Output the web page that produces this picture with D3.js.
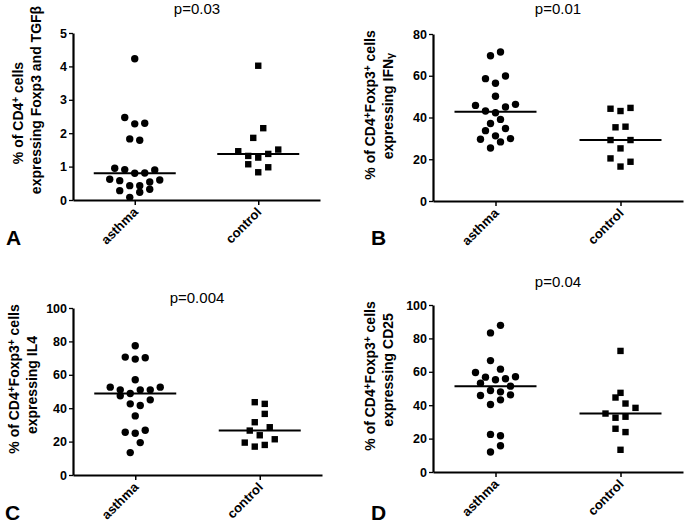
<!DOCTYPE html>
<html>
<head>
<meta charset="utf-8">
<script src="https://cdn.jsdelivr.net/npm/d3@7"></script>
<style>
  html, body { margin: 0; padding: 0; background: #fff; }
  svg { display: block; }
  text { font-family: "Liberation Sans", Arial, Helvetica, sans-serif; fill: #000; }
</style>
</head>
<body>
<svg id="chart" width="685" height="526"></svg>
<script>
// ---------------- data ----------------
const categories = ["asthma", "control"];
const pLabels = ["p=0.03", "p=0.01", "p=0.004", "p=0.04"];
const panelLetters = ["A", "B", "C", "D"];

const yTicksA = [0, 1, 2, 3, 4, 5];
const yTicksB = [0, 20, 40, 60, 80];
const yTicksC = [0, 20, 40, 60, 80, 100];
const yTicksD = [0, 20, 40, 60, 80, 100];

// Panel A: % of CD4+ cells expressing Foxp3 and TGFβ
const asthmaA = [4.23, 2.47, 2.28, 2.30, 1.83, 1.79, 0.95, 0.91, 0.90, 0.80, 0.81, 0.62, 0.58, 0.60, 0.54, 0.43, 0.43, 0.28, 0.32, 0.23, 0.08];
const asthmaASlot = [0, -2, 0, 2, -1, 1, -4, -2, 4, 0, 2, -5, -3, 5, 3, -1, 1, -3, 3, 1, -1];
const controlA = [4.02, 2.15, 1.86, 1.46, 1.51, 1.32, 1.38, 1.27, 1.07, 0.98, 0.83];
const controlASlot = [0, 1, -1, -4, 4, -2, 2, 0, -2, 2, 0];

// Panel B: IFNγ
const asthmaB = [71.4, 69.6, 58.6, 59.9, 56.4, 50.2, 45.8, 46.3, 45.0, 43.1, 42.3, 39.1, 37.1, 33.7, 34.7, 31.2, 29.6, 29.9, 28.3, 25.4];
const asthmaBSlot = [1, -1, -2, 2, 0, 0, -4, 4, 2, -2, 0, 1, -1, -2, 2, 0, -3, 3, 1, -1];
const controlB = [44.2, 43.1, 44.6, 35.3, 35.6, 29.2, 29.2, 25.2, 20.4, 18.8, 16.5];
const controlBSlot = [-2, 0, 2, -1, 1, -2, 2, 0, -2, 2, 0];

// Panel C: IL4
const asthmaC = [77.4, 70.6, 69.4, 70.2, 57.0, 52.6, 52.6, 51.0, 51.0, 51.0, 47.4, 48.8, 45.0, 42.6, 41.6, 35.4, 25.6, 25.0, 26.8, 19.4, 13.4];
const asthmaCSlot = [0, -2, 0, 2, 0, -5, 5, -3, 1, 3, -3, -1, 3, -1, 1, 0, -2, 0, 2, 1, -1];
const controlC = [43.6, 42.6, 36.6, 31.6, 28.6, 26.6, 23.8, 21.4, 19.4, 17.0, 18.0];
const controlCSlot = [-1, 1, 1, -1, 2, -2, 0, 3, -3, -1, 1];

// Panel D: CD25
const asthmaD = [87.8, 83.3, 66.7, 61.6, 59.6, 56.8, 55.2, 55.8, 57.0, 53.2, 51.4, 48.8, 48.0, 45.8, 46.2, 43.2, 40.4, 22.5, 21.7, 15.7, 12.0];
const asthmaDSlot = [1, -1, -1, 1, -4, -2, 0, 2, 4, -3, 3, -1, 1, -3, 3, 1, -1, -1, 1, 1, -1];
const controlD = [72.5, 47.4, 44.6, 41.0, 38.4, 35.0, 32.5, 33.1, 25.9, 23.9, 13.3];
const controlDSlot = [0, 0, -1, 1, 3, -3, -1, 1, -1, 1, 0];

// ---------------- layout ----------------
const svg = d3.select("#chart");
const SLOT = 5;        // px per half-dot jitter slot
const R = 3.7;         // circle radius
const SQ = 6.4;        // square side
const MED_HALF = 41;   // median line half width

const panels = [
  { letter: panelLetters[0], p: pLabels[0], ticks: yTicksA, ymax: 5,
    asthma: asthmaA, aSlot: asthmaASlot, control: controlA, cSlot: controlASlot,
    x0: 73, x1: 320, yTop: 33, yBot: 200, titleX: 197, titleY: 14,
    letterX: 6, letterY: 245,
    labelLines: [
      { x: 23, cy: 113, parts: [["% of CD4"], ["+", true], [" cells"]] },
      { x: 41, cy: 100, parts: [["expressing Foxp3 and TGFβ"]] }
    ] },
  { letter: panelLetters[1], p: pLabels[1], ticks: yTicksB, ymax: 80,
    asthma: asthmaB, aSlot: asthmaBSlot, control: controlB, cSlot: controlBSlot,
    x0: 433, x1: 683, yTop: 34, yBot: 201, titleX: 558, titleY: 14,
    letterX: 371, letterY: 245,
    labelLines: [
      { x: 375, cy: 105, parts: [["% of CD4"], ["+", true], ["Foxp3"], ["+", true], [" cells"]] },
      { x: 393, cy: 106, parts: [["expressing IFN"], ["γ", "small"]] }
    ] },
  { letter: panelLetters[2], p: pLabels[2], ticks: yTicksC, ymax: 100,
    asthma: asthmaC, aSlot: asthmaCSlot, control: controlC, cSlot: controlCSlot,
    x0: 73, x1: 322, yTop: 308, yBot: 475, titleX: 197, titleY: 303,
    letterX: 5, letterY: 520,
    labelLines: [
      { x: 19, cy: 379, parts: [["% of CD4"], ["+", true], ["Foxp3"], ["+", true], [" cells"]] },
      { x: 37, cy: 385, parts: [["expressing IL4"]] }
    ] },
  { letter: panelLetters[3], p: pLabels[3], ticks: yTicksD, ymax: 100,
    asthma: asthmaD, aSlot: asthmaDSlot, control: controlD, cSlot: controlDSlot,
    x0: 433, x1: 683, yTop: 305, yBot: 472, titleX: 558, titleY: 287,
    letterX: 371, letterY: 520,
    labelLines: [
      { x: 375, cy: 376, parts: [["% of CD4"], ["+", true], ["Foxp3"], ["+", true], [" cells"]] },
      { x: 393, cy: 370, parts: [["expressing CD25"]] }
    ] }
];

panels.forEach(P => {
  const g = svg.append("g");
  const x = d3.scalePoint().domain(categories).range([P.x0, P.x1]).padding(0.5);
  const y = d3.scaleLinear().domain([0, P.ymax]).range([P.yBot, P.yTop]);

  // y axis
  const ya = g.append("g")
    .attr("transform", `translate(${P.x0},0)`)
    .call(d3.axisLeft(y).tickValues(P.ticks).tickFormat(d3.format("d"))
      .tickSize(4).tickSizeOuter(0).tickPadding(2));
  ya.select(".domain").attr("stroke", "#000").attr("stroke-width", 2.2);
  ya.selectAll(".tick line").attr("stroke", "#000").attr("stroke-width", 1.3);
  ya.selectAll(".tick text")
    .attr("font-family", "Liberation Sans, Arial, sans-serif")
    .attr("font-size", 12.5).attr("font-weight", "bold").attr("fill", "#000");

  // x axis
  const xa = g.append("g")
    .attr("transform", `translate(0,${P.yBot})`)
    .call(d3.axisBottom(x).tickSize(5).tickSizeOuter(0).tickFormat(""));
  xa.select(".domain").attr("stroke", "#000").attr("stroke-width", 2.2);
  xa.selectAll(".tick line").attr("stroke", "#000").attr("stroke-width", 1.5);

  // rotated category labels
  g.selectAll("text.cat").data(categories).join("text")
    .attr("class", "cat")
    .attr("transform", d => `translate(${x(d) + 4},${P.yBot + 13}) rotate(-45)`)
    .attr("text-anchor", "end")
    .attr("font-size", 13).attr("font-weight", "bold")
    .text(d => d);

  // asthma circles
  g.selectAll("circle.pt").data(P.asthma).join("circle")
    .attr("class", "pt")
    .attr("cx", (d, i) => x("asthma") + P.aSlot[i] * SLOT)
    .attr("cy", d => y(d))
    .attr("r", R)
    .attr("fill", "#000");

  // control squares
  g.selectAll("rect.pt").data(P.control).join("rect")
    .attr("class", "pt")
    .attr("x", (d, i) => x("control") + P.cSlot[i] * SLOT - SQ / 2)
    .attr("y", d => y(d) - SQ / 2)
    .attr("width", SQ).attr("height", SQ)
    .attr("fill", "#000");

  // median lines
  const meds = [["asthma", d3.median(P.asthma)], ["control", d3.median(P.control)]];
  g.selectAll("line.med").data(meds).join("line")
    .attr("class", "med")
    .attr("x1", d => x(d[0]) - MED_HALF)
    .attr("x2", d => x(d[0]) + MED_HALF)
    .attr("y1", d => y(d[1]))
    .attr("y2", d => y(d[1]))
    .attr("stroke", "#000").attr("stroke-width", 2);

  // p value title
  g.append("text")
    .attr("x", P.titleX).attr("y", P.titleY)
    .attr("text-anchor", "middle")
    .attr("font-size", 15)
    .text(P.p);

  // panel letter
  g.append("text")
    .attr("x", P.letterX).attr("y", P.letterY)
    .attr("font-size", 21).attr("font-weight", "bold")
    .text(P.letter);

  // y label (superscripts via dy on the following tspan)
  P.labelLines.forEach(L => {
    const t = g.append("text")
      .attr("transform", `translate(${L.x},${L.cy}) rotate(-90)`)
      .attr("text-anchor", "middle")
      .attr("font-size", 14).attr("font-weight", "bold");
    let pending = 0;
    L.parts.forEach(pt => {
      const s = t.append("tspan").text(pt[0]);
      let shift = 0;
      if (pt[1] === true) { s.attr("font-size", 10); shift = -4; }
      else if (pt[1] === "small") { s.attr("font-size", 11); shift = 1; }
      const dy = pending + shift;
      if (dy !== 0) s.attr("dy", dy);
      pending = -shift;
    });
  });
});
</script>
</body>
</html>
